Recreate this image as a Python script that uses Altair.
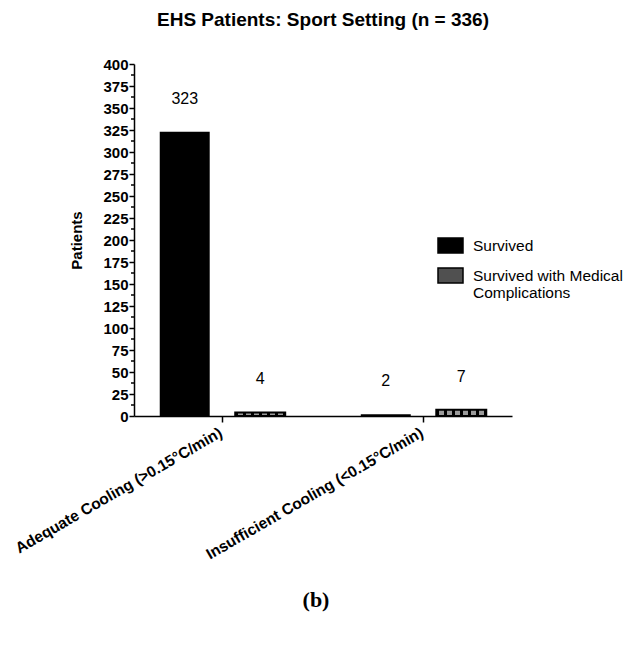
import altair as alt
import pandas as pd

groups = ["Adequate Cooling (>0.15°C/min)", "Insufficient Cooling (<0.15°C/min)"]
outcomes = ["Survived", "Survived with Medical Complications"]
survived = [323, 2]
complications = [4, 7]
y_ticks = list(range(0, 401, 25))
minor_ticks = [v + 12.5 for v in range(0, 400, 25)]

rows = []
for g, s, c in zip(groups, survived, complications):
    rows.append({"group": g, "outcome": outcomes[0], "patients": s})
    rows.append({"group": g, "outcome": outcomes[1], "patients": c})
df = pd.DataFrame(rows)

FONT = "Liberation Sans"
W, H = 378, 352

x = alt.X(
    "group:N", sort=groups,
    scale=alt.Scale(paddingInner=0.12, paddingOuter=0),
    axis=alt.Axis(title=None, labelAngle=-30, labelFont=FONT, labelFontSize=15.5,
                  labelFontWeight="bold", labelColor="black", domainColor="black",
                  domainWidth=1.5, tickColor="black", tickWidth=1.5, tickSize=6,
                  labelPadding=3, labelOffset=-5, labelLimit=400),
)
xo = alt.XOffset("outcome:N", sort=outcomes,
                 scale=alt.Scale(paddingInner=0.338, paddingOuter=0.341))
yscale = alt.Scale(domain=[0, 400], nice=False)
yaxis = alt.Axis(title="Patients", values=y_ticks, labelFont=FONT, labelFontSize=15,
                 labelFontWeight="bold", labelColor="black", titleFont=FONT,
                 titleFontSize=15, titleFontWeight="bold", titleColor="black",
                 titlePadding=18, domainColor="black", domainWidth=1.5,
                 tickColor="black", tickWidth=1.5, tickSize=5, labelPadding=1,
                 grid=False)
y = alt.Y("patients:Q", scale=yscale, axis=yaxis)

base = alt.Chart(df)

bars = base.mark_bar().encode(
    x=x, xOffset=xo, y=y,
    color=alt.Color(
        "outcome:N", sort=outcomes,
        scale=alt.Scale(domain=outcomes, range=["#000000", "#505050"]),
        legend=alt.Legend(
            title=None, orient="none", legendX=303, legendY=168,
            symbolType="M-1,-0.6H1V0.6H-1Z", symbolSize=625,
            symbolStrokeColor="black", symbolStrokeWidth=1.5,
            labelFont=FONT, labelFontSize=15.5, labelColor="black",
            labelOffset=9, rowPadding=6, padding=0, labelLimit=300,
            labelExpr="datum.label == 'Survived with Medical Complications' ? ['Survived with Medical', 'Complications'] : datum.label",
        ),
    ),
)

stops = []
pos = 0.0
while pos < 1.0:
    g0 = min(pos + 0.06, 1.0)
    g1 = min(pos + 0.16, 1.0)
    stops += [
        alt.GradientStop(offset=pos, color="#000000"),
        alt.GradientStop(offset=g0, color="#000000"),
        alt.GradientStop(offset=g0, color="#9a9a9a"),
        alt.GradientStop(offset=g1, color="#9a9a9a"),
    ]
    pos = g1
hatch_fill = alt.LinearGradient(gradient="linear", stops=stops, x1=0, x2=1, y1=0, y2=0)

hatch = base.transform_filter(
    alt.datum.outcome == outcomes[1]
).mark_bar(fill=hatch_fill, stroke="black", strokeWidth=2).encode(
    x=x, xOffset=xo, y=y,
)

labels = base.mark_text(dy=-33, fontSize=16, font=FONT, color="black").encode(
    x=x, xOffset=xo, y=y, text="patients:Q",
)

minor = alt.Chart(pd.DataFrame({"patients": minor_ticks})).mark_rule(
    color="black", strokeWidth=1.5
).encode(
    y=y,
    x=alt.value(-3), x2=alt.value(0),
)

panel = alt.Chart(pd.DataFrame({"label": ["(b)"]})).mark_text(
    font="Liberation Serif", fontSize=22, fontWeight="bold", color="black"
).encode(x=alt.value(182), y=alt.value(536), text="label:N")

chart = alt.layer(bars, hatch, labels, minor, panel).properties(
    width=W, height=H,
    title=alt.Title("EHS Patients: Sport Setting (n = 336)", font=FONT, fontSize=19,
                    fontWeight="bold", color="black", anchor="middle", offset=27),
    autosize=alt.AutoSizeParams(type="none"),
    padding={"left": 126, "top": 56, "right": 113, "bottom": 221},
).configure_view(stroke=None)

chart.save("out.html", embed_options={"renderer": "svg", "actions": False})
